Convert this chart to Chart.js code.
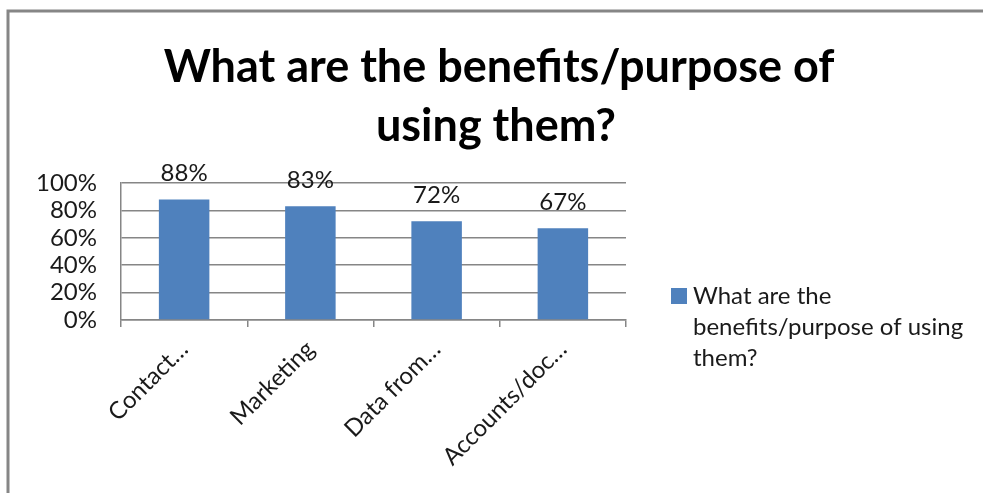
<!DOCTYPE html>
<html lang="en">
<head>
  <meta charset="UTF-8">
  <title>Benefits / purpose</title>
  <script src="https://cdn.jsdelivr.net/npm/chart.js"></script>
  <style>
    html, body {
      margin: 0;
      padding: 0;
      background: #fff;
    }

    #chart {
      display: block;
    }
  </style>
</head>

<body>
  <canvas id="chart" width="983" height="493"></canvas>

  <script>
    const titleLines = ["What are the benefits/purpose of", "using them?"];
    const seriesName = "What are the benefits/purpose of using them?";
    const legendLines = ["What are the", "benefits/purpose of using", "them?"];
    const categories = ["Contact…", "Marketing", "Data from…", "Accounts/doc…"];
    const values = [88, 83, 72, 67];
    const yTickValues = [0, 20, 40, 60, 80, 100];

    const barColor = "#4F81BD";
    const lineGray = "#868686";
    const fontFam = "Lato, 'Open Sans', sans-serif";

    // frame, title, data labels and the wrapped legend
    const decor = {
      id: "decor",
      afterDraw(chart) {
        const ctx = chart.ctx;
        ctx.save();

        ctx.strokeStyle = lineGray;
        ctx.lineWidth = 3;
        ctx.beginPath();
        ctx.moveTo(8, 500);
        ctx.lineTo(8, 11);
        ctx.lineTo(990, 11);
        ctx.stroke();

        ctx.fillStyle = "#000";
        ctx.textAlign = "center";
        ctx.textBaseline = "middle";
        ctx.font = "bold 45px " + fontFam;
        ctx.fillText(titleLines[0], 499, 67);
        ctx.fillText(titleLines[1], 496, 126);

        ctx.font = "24px " + fontFam;
        ctx.fillStyle = "#1a1a1a";
        chart.getDatasetMeta(0).data.forEach((bar, i) => {
          ctx.fillText(values[i] + "%", bar.x, bar.y - 26);
        });

        ctx.fillStyle = barColor;
        ctx.fillRect(671, 288, 16, 16);
        ctx.fillStyle = "#1a1a1a";
        ctx.textAlign = "left";
        legendLines.forEach((t, i) => ctx.fillText(t, 693, 296 + i * 31));

        ctx.restore();
      }
    };

    new Chart(document.getElementById("chart"), {
      type: "bar",
      data: {
        labels: categories,
        datasets: [{
          label: seriesName,
          data: values,
          backgroundColor: barColor,
          borderWidth: 0,
          categoryPercentage: 1,
          barPercentage: 0.4
        }]
      },
      options: {
        animation: false,
        responsive: false,
        maintainAspectRatio: false,
        layout: {
          padding: { top: 183, left: 8, right: 357, bottom: 0 }
        },
        scales: {
          x: {
            afterFit: s => { s.height = 173; },
            grid: {
              offset: true,
              drawOnChartArea: false,
              drawTicks: true,
              tickLength: 7,
              color: lineGray,
              lineWidth: 1.5
            },
            border: { display: true, color: lineGray, width: 1.5 },
            ticks: {
              minRotation: 45,
              maxRotation: 45,
              autoSkip: false,
              padding: 8,
              color: "#1a1a1a",
              font: { family: fontFam, size: 24 }
            }
          },
          y: {
            min: 0,
            max: 100,
            afterFit: s => { s.width = 113; },
            afterBuildTicks: s => { s.ticks = yTickValues.map(v => ({ value: v })); },
            grid: {
              drawTicks: false,
              color: lineGray,
              lineWidth: 1.5
            },
            border: { display: true, color: lineGray, width: 1.5 },
            ticks: {
              autoSkip: false,
              padding: 24,
              color: "#1a1a1a",
              font: { family: fontFam, size: 24 },
              callback: v => v + "%"
            }
          }
        },
        plugins: {
          legend: { display: false },
          tooltip: { enabled: false },
          title: { display: false }
        }
      },
      plugins: [decor]
    });
  </script>
</body>

</html>
